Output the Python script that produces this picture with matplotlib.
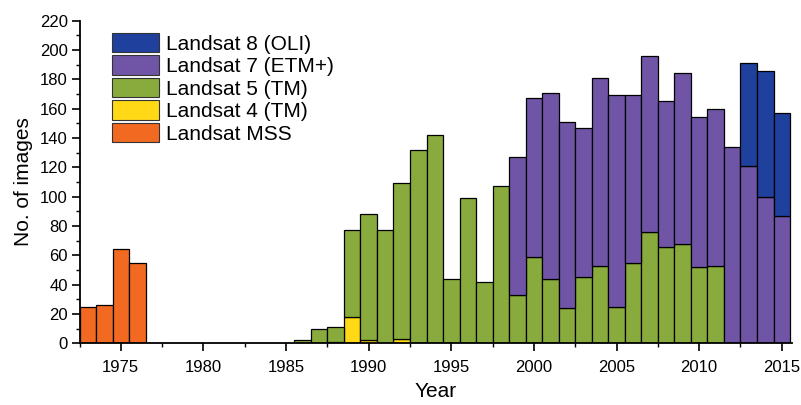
import numpy as np
import matplotlib
matplotlib.use("Agg")
import matplotlib.pyplot as plt
from matplotlib.ticker import MultipleLocator
from matplotlib.patches import Patch

plt.rcParams['font.family'] = ['Liberation Sans', 'DejaVu Sans']

years = list(range(1973, 2016))

mss = {1973: 25, 1974: 26, 1975: 64, 1976: 55}
l4 = {1988: 1, 1989: 18, 1990: 2, 1992: 3}
l5 = {1986: 2, 1987: 10, 1988: 10, 1989: 59, 1990: 86, 1991: 77, 1992: 106,
      1993: 132, 1994: 142, 1995: 44, 1996: 99, 1997: 42, 1998: 107,
      1999: 33, 2000: 59, 2001: 44, 2002: 24, 2003: 45, 2004: 53, 2005: 25,
      2006: 55, 2007: 76, 2008: 66, 2009: 68, 2010: 52, 2011: 53}
l7 = {1999: 94, 2000: 108, 2001: 127, 2002: 127, 2003: 102, 2004: 128,
      2005: 144, 2006: 114, 2007: 120, 2008: 99, 2009: 116, 2010: 102,
      2011: 107, 2012: 134, 2013: 121, 2014: 100, 2015: 87}
l8 = {2013: 70, 2014: 86, 2015: 70}

series = [
    ("Landsat MSS", mss, "#F26A22"),
    ("Landsat 4 (TM)", l4, "#FFD916"),
    ("Landsat 5 (TM)", l5, "#89AB3D"),
    ("Landsat 7 (ETM+)", l7, "#7055A6"),
    ("Landsat 8 (OLI)", l8, "#1F409C"),
]

fig = plt.figure(figsize=(8.01, 4.05), dpi=100)
ax = fig.add_axes([79.5 / 801, 1 - 343.3 / 405, (791.7 - 79.5) / 801, (343.3 - 20.7) / 405])

x = np.array(years)
bottom = np.zeros(len(years))
for name, d, color in series:
    vals = np.array([d.get(y, 0) for y in years], dtype=float)
    mask = vals > 0
    ax.bar(x[mask], vals[mask], width=1.0, bottom=bottom[mask], color=color,
           edgecolor="black", linewidth=0.9, zorder=2)
    bottom += vals

ax.set_xlim(1972.5, 2015.6)
ax.set_ylim(0, 220)
ax.xaxis.set_major_locator(MultipleLocator(5))
ax.xaxis.set_minor_locator(MultipleLocator(2.5))
ax.yaxis.set_major_locator(MultipleLocator(20))
ax.yaxis.set_minor_locator(MultipleLocator(10))
ax.set_xticks(range(1975, 2016, 5))
ax.tick_params(axis='both', which='major', length=5.5, width=1.2, labelsize=12, direction='out')
ax.tick_params(axis='x', which='major', pad=6.5)
ax.tick_params(axis='y', which='major', pad=3)
ax.tick_params(axis='both', which='minor', length=3, width=1.0, direction='out')
for s in ['top', 'right']:
    ax.spines[s].set_visible(False)
for s in ['left', 'bottom']:
    ax.spines[s].set_linewidth(1.3)
    ax.spines[s].set_zorder(3)

ax.set_xlabel("Year", fontsize=15, labelpad=5)
ax.set_ylabel("No. of images", fontsize=15, labelpad=5)

handles = [Patch(facecolor=c, edgecolor="#333333", linewidth=0.8, label=n) for n, _, c in series[::-1]]
fig.legend(handles=handles, loc='upper left', bbox_to_anchor=(112 / 801, 1 - 33 / 405),
           frameon=False, fontsize=15, handlelength=2.25, handleheight=1.05,
           handletextpad=0.35, labelspacing=0.08, borderpad=0, borderaxespad=0)

fig.savefig("out.png", dpi=100)
